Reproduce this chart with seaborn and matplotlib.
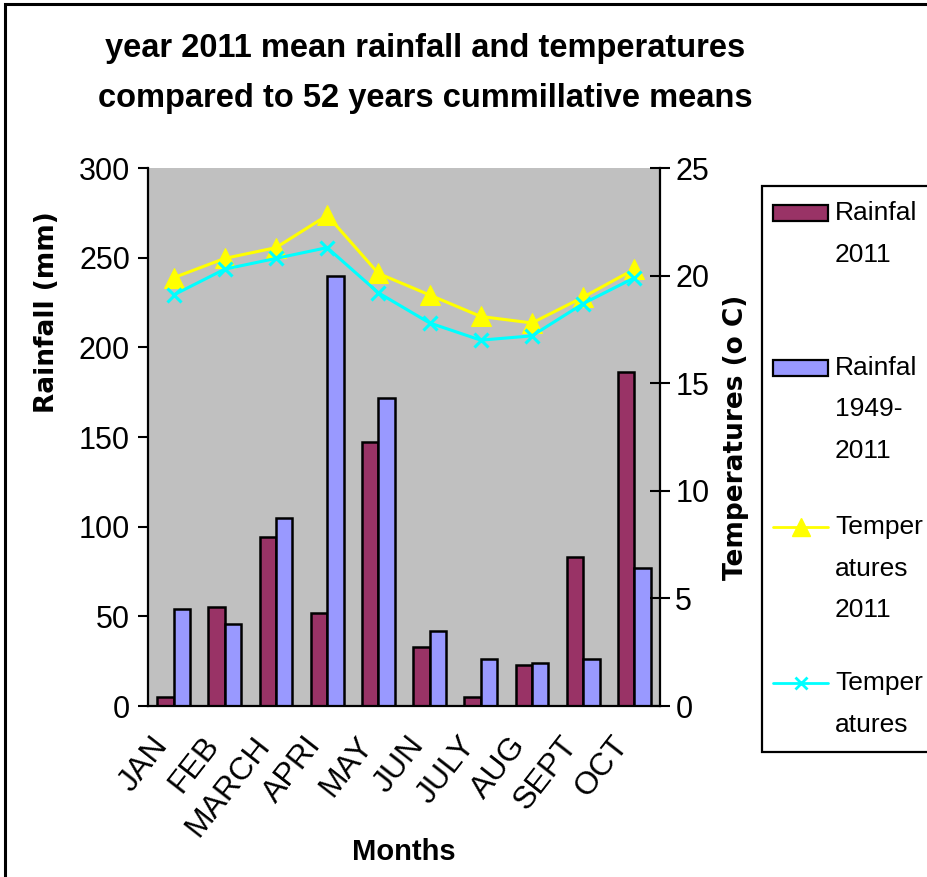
import numpy as np
import pandas as pd
import matplotlib
matplotlib.use("Agg")
import matplotlib.pyplot as plt
from matplotlib.patches import Rectangle
from matplotlib.lines import Line2D
import seaborn as sns

# Monthly data
months = ["JAN", "FEB", "MARCH", "APRI", "MAY", "JUN", "JULY", "AUG", "SEPT", "OCT"]
rain_2011 = [5, 55, 94, 52, 147, 33, 5, 23, 83, 186]
rain_1949_2011 = [54, 46, 105, 240, 172, 42, 26, 24, 26, 77]
temp_2011 = [19.9, 20.8, 21.3, 22.8, 20.1, 19.1, 18.1, 17.8, 19.0, 20.3]
temp_1949_2011 = [19.1, 20.3, 20.8, 21.3, 19.2, 17.8, 17.0, 17.2, 18.7, 19.9]

rain_series = ["Rainfal 2011", "Rainfal 1949-2011"]
legend_labels = ["Rainfal\n2011", "Rainfal\n1949-\n2011", "Temper\natures\n2011", "Temper\natures"]

bar_colors = {"Rainfal 2011": "#993366", "Rainfal 1949-2011": "#9999FF"}
line_2011 = "#FFFF00"
line_long = "#00FFFF"

sns.set_theme(style="white")
plt.rcParams["font.family"] = ["Liberation Sans", "DejaVu Sans"]
plt.rcParams["text.color"] = "black"
plt.rcParams["axes.labelcolor"] = "black"
plt.rcParams["xtick.color"] = "black"
plt.rcParams["ytick.color"] = "black"

df = pd.DataFrame({
    "Month": months * 2,
    "Series": [rain_series[0]] * len(months) + [rain_series[1]] * len(months),
    "Rainfall": rain_2011 + rain_1949_2011,
})

fig = plt.figure(figsize=(9.27, 8.77), dpi=100)
W, H = 927, 877
ax = fig.add_axes([148 / W, 1 - 706 / H, 512 / W, 538 / H])
ax.set_facecolor("#C0C0C0")

sns.barplot(data=df, x="Month", y="Rainfall", hue="Series", order=months,
            hue_order=rain_series, palette=bar_colors, width=0.64,
            edgecolor="black", linewidth=1.8, saturation=1, legend=False, ax=ax)

ax.set_xlim(-0.5, len(months) - 0.5)
ax.set_ylim(0, 300)
ax.set_yticks(np.arange(0, 301, 50))
ax.tick_params(axis="y", direction="out", length=7, width=1.5, colors="black",
               labelsize=22, pad=6)

# month names hang left of each category centre; tick marks sit on the boundaries
ax.set_xticks(np.arange(len(months)) - 0.45)
ax.set_xticklabels(months, rotation=52, ha="right", va="top",
                   rotation_mode="anchor", fontsize=23)
ax.tick_params(axis="x", which="major", length=0, pad=18)
ax.set_xticks(np.arange(len(months) + 1) - 0.5, minor=True)
ax.tick_params(axis="x", which="minor", direction="inout", length=14, width=1.5,
               colors="black")

for side in ["left", "bottom"]:
    ax.spines[side].set_color("black")
    ax.spines[side].set_linewidth(1.6)
ax.spines["top"].set_visible(False)
ax.spines["right"].set_visible(False)

ax.set_xlabel("Months", fontsize=21, fontweight="bold")
ax.xaxis.set_label_coords(0.5, (706 - 838) / 538)
ax.set_ylabel("Rainfall (mm)", fontsize=19, fontweight="bold", family="DejaVu Sans")
ax.yaxis.set_label_coords((60 - 148) / 512, (706 - 312) / 538)

# temperatures on the secondary axis
ax2 = ax.twinx()
pos = np.arange(len(months))
sns.lineplot(x=pos, y=temp_2011, ax=ax2, color=line_2011, lw=2.2, marker="^",
             markersize=15, markeredgecolor=line_2011, legend=False)
sns.lineplot(x=pos, y=temp_1949_2011, ax=ax2, color=line_long, lw=2.2, marker="x",
             markersize=10, markeredgewidth=2.2, markeredgecolor=line_long, legend=False)
ax2.set_ylim(0, 25)
ax2.set_yticks(np.arange(0, 26, 5))
ax2.grid(False)
ax2.tick_params(axis="y", direction="inout", length=14, width=1.5, colors="black",
                labelsize=22, pad=4)
for side in ["left", "top", "bottom"]:
    ax2.spines[side].set_visible(False)
ax2.spines["right"].set_color("black")
ax2.spines["right"].set_linewidth(1.6)
ax2.set_ylabel("Temperatures (o C)", fontsize=19, fontweight="bold",
               family="DejaVu Sans", labelpad=10)

fig.text(425 / W, 1 - 48 / H, "year 2011 mean rainfall and temperatures",
         ha="center", va="center", fontsize=23.5, fontweight="bold")
fig.text(425 / W, 1 - 99 / H, "compared to 52 years cummillative means",
         ha="center", va="center", fontsize=23.5, fontweight="bold")

# legend box
fig.add_artist(Rectangle((762 / W, 1 - 752 / H), 200 / W, 566 / H,
                         transform=fig.transFigure, facecolor="white",
                         edgecolor="black", lw=1.6, clip_on=False))
entry_y = [213, 368, 527, 683]
line_gap = 41.5
for i, (lab, y0) in enumerate(zip(legend_labels, entry_y)):
    yf = 1 - y0 / H
    if i < 2:
        fig.add_artist(Rectangle((773 / W, yf - 8 / H), 55 / W, 16 / H,
                                 transform=fig.transFigure,
                                 facecolor=bar_colors[rain_series[i]],
                                 edgecolor="black", lw=1.6))
    else:
        c = line_2011 if i == 2 else line_long
        fig.add_artist(Line2D([773 / W, 828 / W], [yf, yf], transform=fig.transFigure,
                              color=c, lw=2))
        fig.add_artist(Line2D([800.5 / W], [yf], transform=fig.transFigure, color=c,
                              marker="^" if i == 2 else "x", markersize=13 if i == 2 else 9,
                              markeredgewidth=2 if i == 3 else 1, lw=0))
    for k, part in enumerate(lab.split("\n")):
        fig.text(835 / W, 1 - (y0 + k * line_gap) / H, part, ha="left", va="center",
                 fontsize=19)

# outer frame of the chart
fig.add_artist(Rectangle((5 / W, -0.05), 1.1, 1 - 4 / H + 0.05,
                         transform=fig.transFigure, fill=False,
                         edgecolor="black", lw=2.2, clip_on=False))

fig.savefig("out.png", dpi=100, facecolor="white")
